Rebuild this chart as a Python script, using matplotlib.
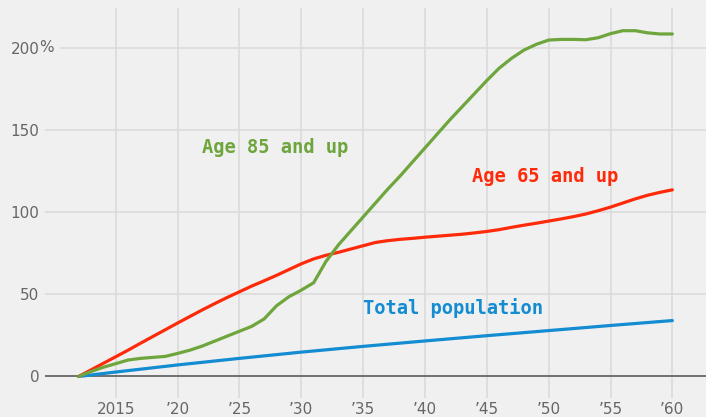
import matplotlib
matplotlib.use("Agg")
import matplotlib.pyplot as plt

years = list(range(2012, 2061))

age85 = [0, 3, 5.6, 7.8, 10, 11, 11.6, 12.2, 14, 16, 18.5, 21.5, 24.5, 27.5, 30.5,
         35, 43, 48.5, 52.5, 57, 70, 80, 88.5, 97, 105.5, 114, 122, 130.5, 139,
         147.5, 156, 164, 172, 180, 187.5, 193.5, 198.5, 202, 204.6, 205, 205,
         204.8, 206, 208.5, 210.3, 210.3, 209, 208.3, 208.3]

age65 = [0, 4, 8, 12, 16, 20.2, 24.3, 28.4, 32.5, 36.5, 40.5, 44.3, 48, 51.5, 55,
         58.2, 61.5, 65, 68.5, 71.5, 73.7, 75.5, 77.5, 79.5, 81.5, 82.6, 83.4, 84,
         84.7, 85.3, 85.9, 86.5, 87.3, 88.2, 89.3, 90.7, 92, 93.2, 94.5, 95.8, 97.2,
         98.8, 100.8, 103, 105.5, 108, 110.2, 112, 113.5]

total_years = [2012, 2015, 2020, 2025, 2030, 2035, 2040, 2045, 2050, 2055, 2060]
total_pop = [0, 2.7, 7, 11, 14.8, 18.3, 21.6, 24.8, 27.9, 31, 34]

xticks = [2015, 2020, 2025, 2030, 2035, 2040, 2045, 2050, 2055, 2060]
xlabels = ["2015", "\u201920", "\u201925", "\u201930", "\u201935", "\u201940",
           "\u201945", "\u201950", "\u201955", "\u201960"]
yticks = [0, 50, 100, 150, 200]
ylabels = ["0", "50", "100", "150", "200"]

green = "#6ea53c"
red = "#ff2a0a"
blue = "#148cd2"
bg = "#f0f0f0"
grid = "#d9d9d9"

fig = plt.figure(figsize=(7.06, 4.17), dpi=100, facecolor=bg)
ax = fig.add_axes([45/706, 19/417, 661/706, 390/417], facecolor=bg)

ax.set_xlim(2009.28, 2062.72)
ax.set_ylim(-13.1, 224.1)

for s in ax.spines.values():
    s.set_visible(False)

# gridlines
for x in xticks:
    ax.axvline(x, color=grid, lw=1.1, zorder=0)
for y in yticks[1:]:
    start = 16/661 if y == 200 else 0
    ax.axhline(y, xmin=start, xmax=1, color=grid, lw=1.1, zorder=0)
ax.axhline(0, color="#666666", lw=1.3, zorder=1)

ax.plot(total_years, total_pop, color=blue, lw=2.3, zorder=3, solid_capstyle="round")
ax.plot(years, age65, color=red, lw=2.3, zorder=4, solid_capstyle="round")
ax.plot(years, age85, color=green, lw=2.3, zorder=5, solid_capstyle="round")

lab = dict(family="DejaVu Sans Mono", fontweight="bold", fontsize=13.5, va="center")
ax.text(2022.0, 139.5, "Age 85 and up", color=green, **lab)
ax.text(2043.8, 121.5, "Age 65 and up", color=red, **lab)
ax.text(2035.0, 41.5, "Total population", color=blue, **lab)

ax.set_xticks(xticks)
ax.set_xticklabels(xlabels)
ax.set_yticks(yticks)
ax.set_yticklabels(ylabels)
ax.tick_params(length=0, colors="#666666", labelsize=11)
ax.tick_params(axis="x", pad=3)
ax.tick_params(axis="y", pad=4)
for t in ax.get_xticklabels() + ax.get_yticklabels():
    t.set_fontfamily("DejaVu Sans")

# percent sign hanging after the top label
ax.text(-0.009, 200, "%", transform=ax.get_yaxis_transform(), color="#666666",
        fontsize=11, va="center", ha="left")

fig.savefig("out.png", dpi=100, facecolor=bg)
